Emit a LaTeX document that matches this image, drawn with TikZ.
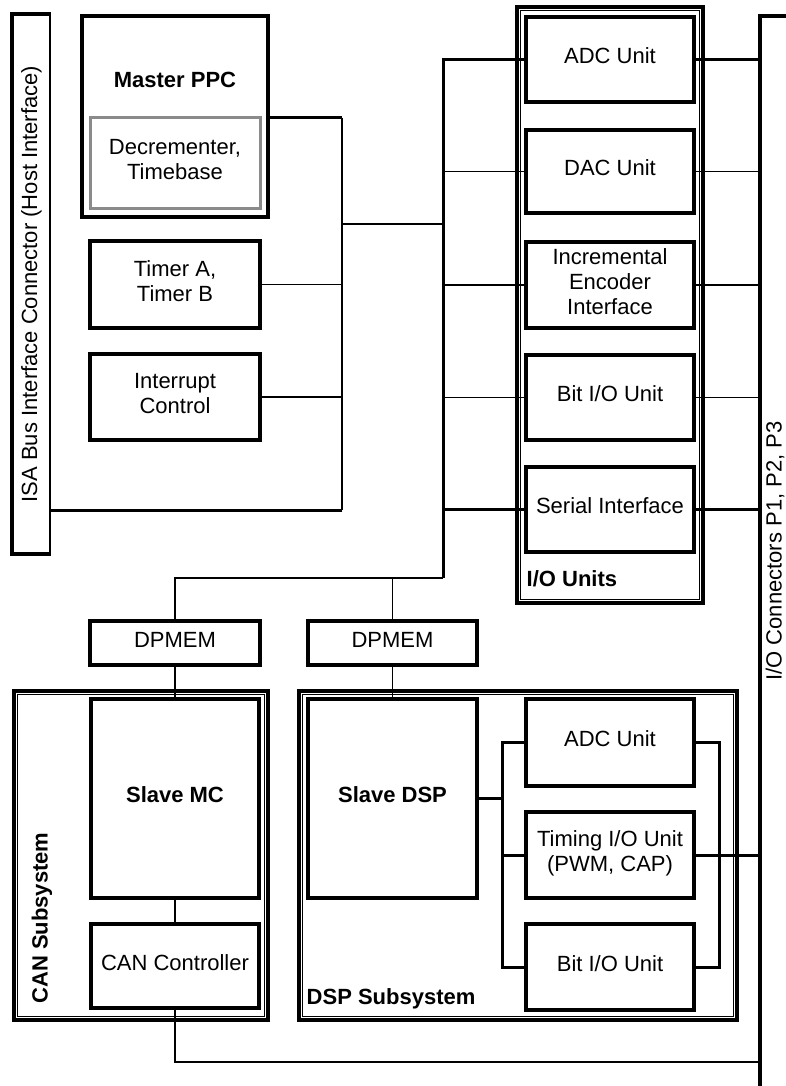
\documentclass[tikz,border=0pt]{standalone}
\usepackage{fontspec}
\setmainfont{Liberation Sans}
\usepackage{tikz}
\usetikzlibrary{positioning, calc}
\definecolor{decgray}{HTML}{8A8A8A}
\newcommand\lblfont{\fontsize{11}{12.5}\selectfont}

\begin{document}
\begin{tikzpicture}[x=0.5pt, y=-0.5pt,
    unitbox/.style={draw, line width=1.7pt, inner sep=0pt, align=center, font=\lblfont, text depth=3.5pt},
    grpbox/.style={draw, line width=1.7pt, inner sep=0pt},
    grpin/.style={line width=0.6pt},
    barbox/.style={draw, line width=0.9pt, inner sep=0pt},
    boxln/.style={line width=1.7pt},
    busln/.style={line width=1.5pt},
    thinln/.style={line width=0.9pt},
    grplbl/.style={inner sep=0pt, font=\lblfont\bfseries},
    rottxt/.style={inner sep=0pt, rotate=90, font=\lblfont}]
    \clip (0,0) rectangle (786,1086);

    % host side
    \node[barbox, minimum width=18.5pt, minimum height=269pt] (isa) at (31.5,284) {};
    \draw[boxln] (isa.south east) -| (isa.north west) -- (isa.north east);
    \node[rottxt] (isatxt) at (isa.center) {ISA Bus Interface Connector (Host Interface)};

    \node[unitbox, minimum width=93pt, minimum height=100.5pt] (ppc) at (175,116.5) {};
    \node[grplbl] (ppclbl) at (175,80) {Master PPC};
    \node[unitbox, draw=decgray, line width=1.5pt, minimum width=85pt, minimum height=45pt] (dec) at (175,163) {Decrementer,\\Timebase};
    \node[unitbox, minimum width=85pt, minimum height=43.5pt] (tmr) at (175,284.5) {Timer A,\\Timer B};
    \node[unitbox, minimum width=85pt, minimum height=43pt] (irq) at (175,397) {Interrupt\\Control};

    % I/O units
    \node[grpbox, minimum width=93pt, minimum height=298pt] (iou) at (610,305) {};
    \draw[grpin] ([shift={(5,5)}]iou.north west) rectangle ([shift={(-5,-5)}]iou.south east);
    \node[unitbox, minimum width=84pt, minimum height=42.5pt] (adc) at (610,59.5) {ADC Unit};
    \node[unitbox, minimum width=84pt, minimum height=41.5pt] (dac) at (610,171.5) {DAC Unit};
    \node[unitbox, minimum width=84pt, minimum height=43pt] (inc) at (610,285) {Incremental\\Encoder\\Interface};
    \node[unitbox, minimum width=84pt, minimum height=42.5pt] (bio) at (610,397.5) {Bit I/O Unit};
    \node[unitbox, minimum width=84pt, minimum height=42.5pt] (ser) at (610,509.5) {Serial Interface};
    \node[grplbl, anchor=base west] (ioulbl) at ([shift={(11,-18)}]iou.south west) {I/O Units};

    \node[barbox, minimum width=24.5pt, minimum height=541.5pt] (ioc) at (785.5,558.5) {};
    \draw[boxln] (ioc.south west) -- (ioc.north west) -- (ioc.north east);
    \node[rottxt] (ioctxt) at (775,551) {I/O Connectors P1, P2, P3};

    % dual port memories
    \node[unitbox, minimum width=85pt, minimum height=22pt] (dpm1) at (175,643) {DPMEM};
    \node[unitbox, minimum width=84.5pt, minimum height=22pt] (dpm2) at (392.5,643) {DPMEM};

    % CAN subsystem
    \node[grpbox, minimum width=127pt, minimum height=164.5pt] (cansub) at (141,855.5) {};
    \draw[grpin] ([shift={(5,5)}]cansub.north west) rectangle ([shift={(-5,-5)}]cansub.south east);
    \node[unitbox, font=\lblfont\bfseries, minimum width=84pt, minimum height=99.5pt] (smc) at (175,798.5) {Slave MC};
    \node[unitbox, minimum width=84pt, minimum height=42pt] (canc) at (175,966) {CAN Controller};
    \node[grplbl, rotate=90] (canlbl) at (42,918) {CAN Subsystem};

    % DSP subsystem
    \node[grpbox, minimum width=219pt, minimum height=164.5pt] (dspsub) at (518,855.5) {};
    \draw[grpin] ([shift={(5,5)}]dspsub.north west) rectangle ([shift={(-5,-5)}]dspsub.south east);
    \node[unitbox, font=\lblfont\bfseries, minimum width=84.5pt, minimum height=99.5pt] (sdsp) at (392.5,798.5) {Slave DSP};
    \node[unitbox, minimum width=84pt, minimum height=43.5pt] (dadc) at (610,742.5) {ADC Unit};
    \node[unitbox, minimum width=84pt, minimum height=43pt] (dtim) at (610,855) {Timing I/O Unit\\(PWM, CAP)};
    \node[unitbox, minimum width=84pt, minimum height=43pt] (dbit) at (610,967) {Bit I/O Unit};
    \node[grplbl, anchor=base west] (dsplbl) at ([shift={(9,-17)}]dspsub.south west) {DSP Subsystem};

    \coordinate (isatop) at (342,118);
    \coordinate (isabot) at (342,510);
    \coordinate (hostlink) at (342,224);
    \coordinate (cbus) at (443,578);
    \coordinate (dbusl) at (502,798.5);
    \coordinate (dbusr) at (719,798.5);
    \coordinate (canrun) at (175,1062);

    % host bus
    \draw[busln] (ppc.east |- isatop) -- (isatop);
    \draw[thinln] (isatop) -- (isabot);
    \draw[busln] (isabot) -- (isabot -| isa.east);
    \draw[thinln] (tmr.east) -- (tmr.east -| isatop);
    \draw[thinln] (irq.east) -- (irq.east -| isatop);
    \draw[thinln] (hostlink) -- (hostlink -| cbus);

    % local bus to the I/O units
    \draw[busln] (adc.west) -| (cbus);
    \draw[thinln] (dac.west) -- (dac.west -| cbus);
    \draw[thinln] (inc.west) -- (inc.west -| cbus);
    \draw[thinln] (bio.west) -- (bio.west -| cbus);
    \draw[busln] (ser.west) -- (ser.west -| cbus);
    \draw[busln] (adc.east) -- (adc.east -| ioc.west);
    \draw[thinln] (dac.east) -- (dac.east -| ioc.west);
    \draw[thinln] (inc.east) -- (inc.east -| ioc.west);
    \draw[thinln] (bio.east) -- (bio.east -| ioc.west);
    \draw[busln] (ser.east) -- (ser.east -| ioc.west);

    % slaves
    \draw[thinln] (cbus) -| (dpm1.north);
    \draw[thinln] (cbus -| dpm2.north) -- (dpm2.north);
    \draw[thinln] (dpm1.south) -- (smc.north);
    \draw[thinln] (dpm2.south) -- (sdsp.north);
    \draw[thinln] (smc.south) -- (canc.north);
    \draw[thinln] (canc.south) -- (canrun) -- (canrun -| ioc.west);

    \draw[busln] (sdsp.east) -- (dbusl);
    \draw[busln] (dadc.west) -| (dbusl |- dbit.west) -- (dbit.west);
    \draw[busln] (dtim.west) -- (dtim.west -| dbusl);
    \draw[busln] (dadc.east) -| (dbusr |- dbit.east) -- (dbit.east);
    \draw[busln] (dtim.east) -- (dtim.east -| ioc.west);
\end{tikzpicture}
\end{document}
